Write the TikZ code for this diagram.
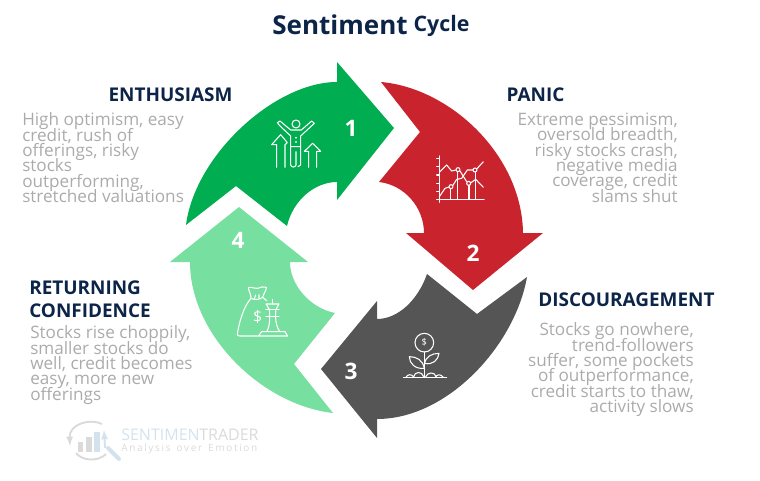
\documentclass[tikz,border=0pt]{standalone}
\usepackage{fontspec}
\setmainfont{Open Sans}
\lineskiplimit=-6pt
\definecolor{navy}{HTML}{0B2447}
\definecolor{greytext}{HTML}{ABABAB}
\definecolor{cyclegreen}{HTML}{00AD50}
\definecolor{cyclered}{HTML}{C9232E}
\definecolor{cycledark}{HTML}{555555}
\definecolor{cyclelight}{HTML}{77DFA0}
\definecolor{logoblue}{HTML}{D3E3EE}
\definecolor{logogrey}{HTML}{DADADA}
\begin{document}
\begin{tikzpicture}[x = 0.75pt, y = -0.75pt,
                    title/.style = {text = navy, font = \bfseries, inner sep = 0pt},
                    head/.style = {text = navy, font = \fontsize{14.2}{17}\selectfont\bfseries, inner sep = 0pt},
                    body/.style = {text = greytext, font = \fontsize{12.85}{11.5}\selectfont, inner sep = 0pt},
                    num/.style = {text = white, font = \fontsize{17}{18}\selectfont\bfseries, inner sep = 0pt},
                    icon/.style = {draw = white, line width = 0.8pt, line join = round, line cap = round},
                    logo/.style = {draw = logoblue, line width = 1.4pt}]
      \useasboundingbox (0, 0) rectangle (760, 481);

      % the four arrows
      \fill [cyclegreen] (186, 225) -- (236, 186) -- (287, 226) .. controls (293, 200) and (315, 182) .. (337, 182)
            -- (337, 200) -- (394, 128) -- (337, 62) -- (337, 82) .. controls (275, 82) and (195, 155) .. cycle;
      \fill [cyclered] (381, 82) -- (420, 132) -- (379, 182) .. controls (405, 185) and (424, 208) .. (424, 233)
            -- (406, 233) -- (473, 290) -- (543, 233) -- (523, 233) .. controls (522, 155) and (450, 88) .. cycle;
      \fill [cycledark] (527, 277) -- (477, 314) -- (427, 274) .. controls (418, 300) and (398, 319) .. (377, 319)
            -- (377, 301) -- (321, 369) -- (377, 438) -- (377, 419) .. controls (448, 419) and (515, 345) .. cycle;
      \fill [cyclelight] (333, 413) -- (294, 364) -- (335, 313) .. controls (310, 308) and (290, 285) .. (290, 262)
            -- (308, 262) -- (239, 207) -- (170, 262) -- (190, 262) .. controls (190, 335) and (262, 405) .. cycle;

      \node [title] (title1) at (340, 25) {\fontsize{19.5}{20}\selectfont Sentiment};
      \node [title] (title2) at (441.5, 26) {\fontsize{16}{20}\selectfont Cycle};

      \node [head] (head1) at (170.5, 95) {ENTHUSIASM};
      \node [head] (head2) at (535.5, 95) {PANIC};
      \node [head] (head3) at (626.5, 300) {DISCOURAGEMENT};
      \node [head, anchor = west] (head4a) at (29, 288) {RETURNING};
      \node [head, anchor = west] (head4b) at (29, 311) {CONFIDENCE};

      \node [body, anchor = north west, align = left] (text1) at (22, 112.5) {High optimism, easy\\credit, rush of\\offerings, risky\\stocks\\outperforming,\\stretched valuations};
      \node [body, anchor = north east, align = right] (text2) at (678, 112.5) {Extreme pessimism,\\oversold breadth,\\risky stocks crash,\\negative media\\coverage, credit\\slams shut};
      \node [body, anchor = north east, align = right] (text3) at (694, 322.5) {Stocks go nowhere,\\trend-followers\\suffer, some pockets\\of outperformance,\\credit starts to thaw,\\activity slows};
      \node [body, anchor = north west, align = left] (text4) at (30, 325.5) {Stocks rise choppily,\\smaller stocks do\\well, credit becomes\\easy, more new\\offerings};

      \node [num] (num1) at (351, 128) {1};
      \node [num] (num2) at (473, 253) {2};
      \node [num] (num3) at (351, 371) {3};
      \node [num] (num4) at (238, 240) {4};

      % person with arrows
      \begin{scope}[shift = {(170, 50)}, scale = 1/3]
        \draw [icon] (378, 222) circle (12);
        \draw [icon] (362, 258) -- (330, 228) -- (322, 218) -- (330, 213) -- (362, 240) -- (394, 240) -- (425, 213) -- (433, 220) -- (392, 258) -- (392, 290) -- (362, 290) -- cycle;
        \draw [icon] (362, 290) -- (362, 345) .. controls (364, 353) and (376, 353) .. (378, 345) -- (378, 305);
        \draw [icon] (392, 290) -- (392, 345) -- (384, 350);
        \draw [icon] (378, 262) -- (378, 264) (378, 275) -- (378, 277);
        \draw [icon] (320, 352) -- (320, 284) -- (305, 284) -- (332, 254) -- (352, 278) -- (345, 284) -- (345, 352);
        \draw [icon] (416, 352) -- (416, 304) -- (403, 304) -- (428, 280) -- (452, 304) -- (440, 304) -- (440, 352);
      \end{scope}

      % chart
      \begin{scope}[shift = {(360, 70)}, scale = 1/3]
        \draw [icon] (238, 258) -- (238, 397) (230, 388) -- (372, 388);
        \foreach \yy in {265, 290, 315, 340, 365}
          \draw [icon] (230, \yy) -- (238, \yy);
        \foreach \xx/\yy in {272/358, 293/305, 327/346, 347/306}
          \draw [icon] (\xx, 388) -- (\xx, \yy);
        \draw [icon] (240, 305) -- (260, 285) -- (275, 303) -- (288, 300) (300, 303) -- (320, 335) (333, 338) -- (347, 328) -- (370, 352);
        \draw [icon] (238, 380) -- (255, 355) -- (267, 351) (279, 346) -- (290, 328) -- (305, 325) -- (322, 300) -- (339, 300) (351, 296) -- (370, 275);
        \foreach \xx/\yy in {273/350, 294/299, 326/340, 345/300}
          \draw [icon] (\xx, \yy) circle (6);
      \end{scope}

      % plant with coin
      \begin{scope}[shift = {(320, 260)}, scale = 1/3]
        \draw [icon] (313, 248) circle (28);
        \node [text = white, font = \fontsize{7}{8}\selectfont, inner sep = 0pt] (coin) at (313, 248) {\$};
        \draw [icon] (313, 276) -- (313, 350);
        \draw [icon] (313, 325) .. controls (308, 300) and (290, 290) .. (268, 290) .. controls (268, 310) and (285, 328) .. (313, 325);
        \draw [icon] (313, 310) .. controls (318, 290) and (335, 280) .. (357, 280) .. controls (355, 300) and (338, 316) .. (313, 310);
        \draw [icon] (250, 352) -- (380, 352);
        \draw [icon] (258, 352) .. controls (262, 342) and (275, 342) .. (280, 350);
        \draw [icon] (280, 352) .. controls (284, 333) and (306, 333) .. (311, 350);
        \draw [icon] (316, 352) .. controls (322, 335) and (345, 335) .. (348, 350);
        \draw [icon] (346, 352) .. controls (350, 342) and (364, 342) .. (370, 352);
      \end{scope}

      % money bag and chess piece
      \begin{scope}[shift = {(165, 200)}, scale = 1/3]
        \draw [icon] (258, 295) .. controls (258, 280) and (250, 272) .. (250, 262) .. controls (265, 260) and (268, 268) .. (278, 265) .. controls (288, 262) and (295, 258) .. (304, 262) .. controls (304, 272) and (296, 280) .. (293, 292);
        \draw [icon] (258, 295) .. controls (270, 302) and (285, 298) .. (293, 292) -- (305, 302);
        \draw [icon] (258, 295) .. controls (235, 320) and (222, 370) .. (217, 402) .. controls (216, 407) and (220, 408) .. (225, 408) -- (278, 408);
        \draw [icon] (268, 297) -- (272, 285) (282, 296) -- (282, 284);
        \node [text = white, font = \fontsize{12}{13}\selectfont, inner sep = 0pt] (bagsign) at (278, 352) {\$};
        \draw [icon] (280, 408) -- (368, 408) -- (360, 395) -- (290, 395) -- cycle;
        \draw [icon] (305, 395) .. controls (315, 380) and (315, 350) .. (313, 328) -- (303, 312) -- (342, 312) -- (333, 328) .. controls (330, 350) and (332, 380) .. (345, 395);
        \draw [icon] (323, 312) -- (323, 298) (303, 328) -- (342, 328) (303, 350) -- (342, 350);
      \end{scope}

      % logo
      \draw [logo, draw = logogrey, -latex] (102, 424) .. controls (90, 418) and (69, 424) .. (70, 446);
      \draw [logo, draw = logogrey] (76, 453) .. controls (82, 461) and (98, 462) .. (106, 454);
      \draw [logo, -latex] (105, 448) -- (104, 430);
      \fill [logogrey] (78, 442) rectangle (83, 452);
      \fill [logogrey] (86, 437) rectangle (92, 452);
      \fill [logoblue] (94, 432) rectangle (100, 452);
      \draw [logoblue, line width = 3pt, line cap = round] (108, 448) -- (119, 459);
      \node [text = logoblue, font = \fontsize{12}{15}\selectfont, inner sep = 0pt, anchor = west] (logo1) at (121, 435) {SENTIMEN};
      \node [text = logogrey, font = \fontsize{12}{15}\selectfont, inner sep = 0pt, anchor = west] (logo2) at (199, 435) {TRADER};
      \node [text = logogrey, font = \fontsize{7.5}{10}\selectfont, inner sep = 0pt, anchor = west] (logo3) at (121, 449) {A\,n\,a\,l\,y\,s\,i\,s\, \,o\,v\,e\,r\, \,E\,m\,o\,t\,i\,o\,n};
\end{tikzpicture}
\end{document}
